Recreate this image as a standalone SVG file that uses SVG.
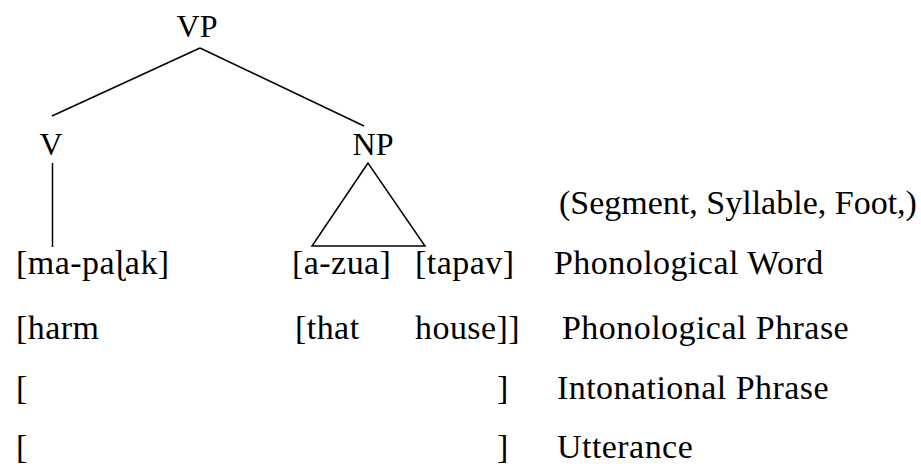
<svg xmlns="http://www.w3.org/2000/svg" width="921" height="470" viewBox="0 0 921 470">
<style>
.e { stroke: #000; stroke-width: 1.5; fill: none; }
.ls { letter-spacing: 0.45px; }
</style>
<rect width="921" height="470" fill="#fff"/>
<g id="connectors">
<line class="e" x1="200" y1="48" x2="52" y2="116"/>
<line class="e" x1="200" y1="48" x2="364" y2="126"/>
<line class="e" x1="52.5" y1="163" x2="52.5" y2="247"/>
<polygon class="e" points="368,163 312,246 425,246"/>
</g>
<g id="VP"><text x="197" y="37" font-family="Liberation Serif" font-size="32" text-anchor="middle">VP</text></g>
<g id="V"><text x="51" y="155" font-family="Liberation Serif" font-size="32" text-anchor="middle">V</text></g>
<g id="NP"><text x="373" y="155" font-family="Liberation Serif" font-size="32" text-anchor="middle">NP</text></g>
<g id="levels" font-family="Liberation Serif" font-size="34">
<text x="559" y="214">(Segment, Syllable, Foot,)</text>
<text class="ls" x="16" y="274">[ma-paɭak]</text>
<text class="ls" x="292" y="274">[a-zua]</text>
<text class="ls" x="415" y="274">[tapav]</text>
<text class="ls" x="554" y="274">Phonological Word</text>
<text class="ls" x="16" y="339">[harm</text>
<text class="ls" x="295" y="339">[that</text>
<text class="ls" x="415" y="339">house]]</text>
<text class="ls" x="562" y="339">Phonological Phrase</text>
<text x="16" y="399">[</text>
<text x="497" y="399">]</text>
<text class="ls" x="557" y="399">Intonational Phrase</text>
<text x="16" y="458">[</text>
<text x="497" y="458">]</text>
<text class="ls" x="557" y="458">Utterance</text>
</g>
</svg>
